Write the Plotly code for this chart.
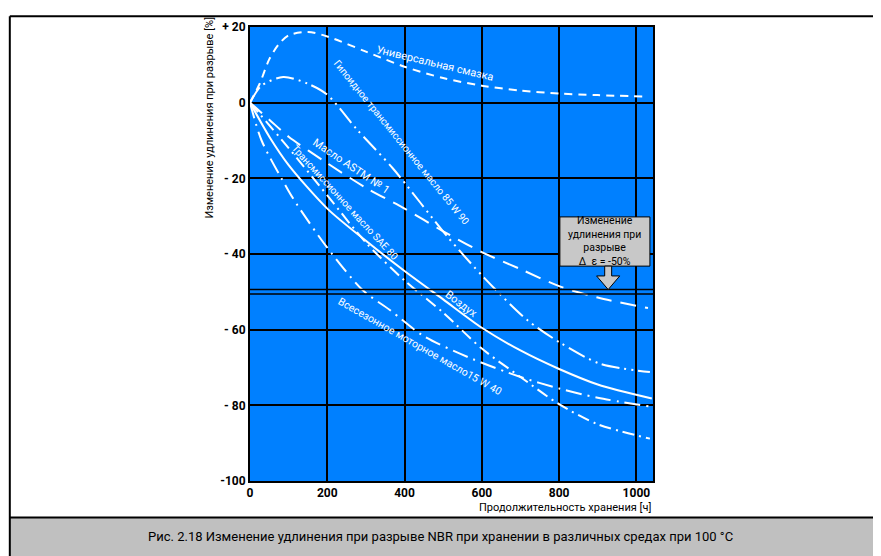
import plotly.graph_objects as go

# ---- data ----
x_univ = [0, 25, 50, 75, 100, 150, 200, 300, 400, 500, 600, 700, 800, 900, 1020]
y_univ = [0, 5, 11.5, 15.5, 17.8, 18.7, 17.5, 13.5, 9.5, 6.5, 4.5, 3.2, 2.4, 2.0, 1.6]

x_hyp = [0, 30, 86, 150, 200, 276, 370, 510, 608, 717, 802, 906, 1035]
y_hyp = [0, 4.5, 6.8, 5.0, 2.1, -7, -17.4, -35.3, -46.5, -57.4, -63.4, -69, -71.2]

x_astm = [0, 50, 100, 200, 300, 400, 500, 600, 700, 800, 900, 1030]
y_astm = [0, -4.5, -9, -16, -22.5, -28, -34, -39.5, -44, -48.5, -51.5, -54.3]

x_sae = [0, 100, 200, 300, 400, 500, 600, 700, 800, 900, 1035]
y_sae = [0, -12, -24.5, -37, -47, -55.5, -65, -72.5, -79.7, -85, -88.8]

x_air = [0, 50, 100, 200, 300, 400, 500, 600, 700, 800, 900, 1040]
y_air = [0, -9, -16.5, -28, -36.5, -44.5, -52, -59.5, -65.5, -70.4, -74.5, -78.2]

x_all = [0, 30, 98, 122, 199, 292, 362, 448, 577, 700, 802, 900, 1035]
y_all = [0, -10, -23, -27, -38.2, -49.6, -54.8, -61.6, -67.8, -72.5, -75.6, -78, -80.3]

x_ticks = [0, 200, 400, 600, 800, 1000]
y_ticks = [20, 0, -20, -40, -60, -80, -100]
y_tick_text = ["+ 20", "0", "- 20", "- 40", "- 60", "- 80", "-100"]

limit_band = [-49.4, -50.6]

FONT = "Roboto, Liberation Sans, sans-serif"
BLUE = "#0080ff"

fig = go.Figure()

series = [
    (x_univ, y_univ, "8px,6px"),
    (x_hyp, y_hyp, "18px,5px,2px,5px,2px,5px"),
    (x_astm, y_astm, "16px,9px"),
    (x_sae, y_sae, "12px,5px,2px,5px"),
    (x_air, y_air, "solid"),
    (x_all, y_all, "16px,6px,2px,6px"),
]
for xs, ys, dash in series:
    fig.add_trace(go.Scatter(x=xs, y=ys, mode="lines",
                             line=dict(color="white", width=2, dash=dash, shape="spline", smoothing=0.8),
                             showlegend=False, hoverinfo="skip"))

shapes = []
for yb in limit_band:
    shapes.append(dict(type="line", xref="paper", yref="y", x0=0, x1=1, y0=yb, y1=yb,
                       line=dict(color="black", width=1.5)))
# annotation box and arrow
shapes.append(dict(type="rect", xref="x", yref="y", x0=802, x1=1035, y0=-43.2, y1=-30.2,
                   fillcolor="#c8c8c8", line=dict(color="black", width=1)))
shapes.append(dict(type="path", xref="x", yref="y",
                   path="M 918 -43.2 L 936 -43.2 L 936 -45.8 L 957 -45.8 L 927 -49.4 L 897 -45.8 L 918 -45.8 Z",
                   fillcolor="#c8c8c8", line=dict(color="black", width=1)))
# frame lines and caption band
FX = -0.596
FY = 1.0239
shapes.append(dict(type="line", xref="paper", yref="paper", x0=FX, x1=1.6, y0=FY, y1=FY,
                   line=dict(color="black", width=2)))
shapes.append(dict(type="line", xref="paper", yref="paper", x0=FX, x1=FX, y0=FY, y1=-0.17,
                   line=dict(color="black", width=2)))
shapes.append(dict(type="rect", xref="paper", yref="paper", x0=FX, x1=1.6, y0=-0.0803, y1=-0.17,
                   fillcolor="#c0c0c0", line=dict(width=0), layer="below"))
shapes.append(dict(type="line", xref="paper", yref="paper", x0=FX, x1=1.6, y0=-0.0803, y1=-0.0803,
                   line=dict(color="black", width=2)))

ann = []
def lab(text, x, y, ang, size=11):
    ann.append(dict(text=text, x=x, y=y, xref="x", yref="y", showarrow=False, textangle=ang,
                    font=dict(family=FONT, size=size, color="white")))

lab("Универсальная смазка", 479, 10.3, 13.5)
lab("Гипоидное трансмиссионное масло 85 W 90", 392, -10.6, 51, 10)
lab("Масло ASTM № 1", 262, -17.0, 34)
lab("Трансмиссионное масло SAE 80", 246, -26.4, 47.5, 10)
lab("Воздух", 548, -53.3, 37)
lab("Всесезонное моторное масло15 W 40", 440, -64.4, 29.6, 10.5)

ann.append(dict(text="Изменение<br>удлинения при<br>разрыве<br>Δ  ε = -50%", x=918.5, y=-36.5,
                xref="x", yref="y", showarrow=False,
                font=dict(family=FONT, size=10.5, color="black")))
ann.append(dict(text="Изменение удлинения при разрыве [%]", x=-0.10, y=0.80, xref="paper", yref="paper",
                xanchor="center", yanchor="middle",
                showarrow=False, textangle=-90, font=dict(family=FONT, size=11, color="black")))
ann.append(dict(text="Продолжительность хранения [ч]", x=1.0, y=-0.0586, xref="paper", yref="paper",
                xanchor="right", yanchor="middle", showarrow=False, font=dict(family=FONT, size=11, color="black")))
ann.append(dict(text="Рис. 2.18 Изменение удлинения при разрыве NBR при хранении в различных средах при 100 °C",
                x=0.4715, y=-0.1215, xref="paper", yref="paper", showarrow=False, yanchor="middle",
                font=dict(family=FONT, size=13, color="black")))

fig.update_layout(
    width=881, height=556,
    margin=dict(l=242, r=236, t=12, b=83),
    paper_bgcolor="white", plot_bgcolor=BLUE,
    shapes=shapes, annotations=ann,
    font=dict(family=FONT, color="black"),
    xaxis=dict(range=[0, 1043], tickvals=x_ticks, showgrid=True, gridcolor="black", gridwidth=1.5,
               zeroline=False, showline=True, linecolor="black", linewidth=2, mirror=True,
               ticks="", tickfont=dict(family=FONT, size=12, color="black", weight="bold")),
    yaxis=dict(range=[-100, 20], tickvals=y_ticks, ticktext=y_tick_text, showgrid=True,
               gridcolor="black", gridwidth=1.5, zeroline=False, showline=True, linecolor="black",
               linewidth=2, mirror=True, ticks="", tickfont=dict(family=FONT, size=12, color="black", weight="bold")),
)

fig.write_html("out.html")
